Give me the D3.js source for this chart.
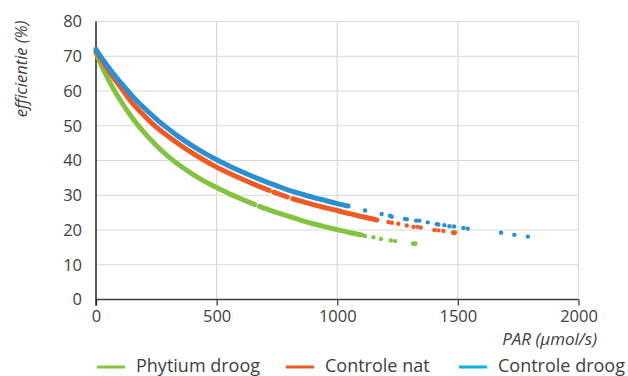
<!DOCTYPE html>
<html><head><meta charset="utf-8">
<script src="https://cdn.jsdelivr.net/npm/d3@7"></script>
<style>
body{margin:0;background:#fff;}
text{font-family:"Open Sans",sans-serif;}
</style></head>
<body><svg id="c" width="628" height="376"></svg>
<script>
// ---- data ----
const seriesNames = ["Phytium droog", "Controle nat", "Controle droog"];
const xTicks = [0, 500, 1000, 1500, 2000];
const yTicks = [0, 10, 20, 30, 40, 50, 60, 70, 80];

// dense runs of points (drawn as thick bands), split where the picture shows gaps
const phytiumDense = [
  [[0,71],[25,67],[50,63.5],[75,60.3],[100,57.4],[150,52.3],[200,48],[250,44.3],[300,41.1],[350,38.4],[400,36.1],[450,34],[500,32.2],[550,30.5],[600,29],[658,27.3]],
  [[678,26.8],[700,26.2],[750,25],[800,23.9],[850,22.8],[900,21.8],[950,20.9],[1000,20.1],[1050,19.3],[1101,18.6]]
];
const phytiumSparse = [[1115,18.3],[1150,17.9],[1181,17.4],[1222,17.0],[1240,16.8],[1314,16.1],[1320,16.0],[1324,16.1]];

const natDense = [
  [[0,71.3],[25,68.6],[50,66.1],[75,63.6],[100,61.3],[150,56.6],[200,52.9],[250,49.6],[300,46.9],[350,44.4],[400,42.1],[450,40],[500,38.1],[550,36.4],[600,34.8],[650,33.3],[700,31.9],[718,31.4]],
  [[737,30.9],[793,29.5]],
  [[815,29.0],[850,28.3],[900,27.3],[950,26.4],[1000,25.6],[1050,24.7],[1100,23.9],[1164,22.9]]
];
const natSparse = [[1212,22.3],[1226,22.1],[1253,21.8],[1288,21.3],[1316,20.9],[1332,20.9],[1346,20.7],[1403,20.0],[1419,19.9],[1440,19.7],[1480,19.3],[1484,19.1],[1488,19.3]];

const droogDense = [
  [[0,72],[25,69.4],[50,67],[75,64.7],[100,62.6],[150,58.6],[200,55.1],[250,51.9],[300,49.1],[350,46.5],[400,44.2],[450,42.1],[500,40.2],[550,38.5],[600,36.9],[650,35.4],[700,34],[750,32.7],[785,31.8]],
  [[792,31.6],[850,30.4],[900,29.4],[950,28.5],[1000,27.6],[1045,26.9]]
];
const droogSparse = [[1115,25.6],[1184,24.6],[1219,24.1],[1226,23.8],[1281,23.2],[1288,23.1],[1327,22.7],[1340,22.7],[1375,22.2],[1412,21.7],[1419,21.6],[1444,21.4],[1465,21.1],[1484,21.0],[1523,20.6],[1541,20.4],[1679,19.2],[1734,18.6],[1790,18.1]];

const dotColors = ["#84c341", "#ef5a24", "#2b8fd3"];
const legendColors = ["#84c341", "#ef5a24", "#0fb0ee"];

// ---- chart ----
const svg = d3.select("#c");
const x = d3.scaleLinear().domain([0, 2000]).range([96, 578.5]);
const y = d3.scaleLinear().domain([0, 80]).range([299.5, 21.5]);
const txt = "#404040";

// gridlines
svg.append("g").selectAll("line").data(yTicks.filter(d => d > 0)).join("line")
  .attr("x1", x(0)).attr("x2", x(2000)).attr("y1", d => y(d)).attr("y2", d => y(d))
  .attr("stroke", "#d9d9d9").attr("stroke-width", 1.2);
svg.append("g").selectAll("line").data(xTicks.filter(d => d > 0)).join("line")
  .attr("x1", d => x(d)).attr("x2", d => x(d)).attr("y1", y(80)).attr("y2", y(0))
  .attr("stroke", "#d9d9d9").attr("stroke-width", 1.2);

// x axis
const xAxis = svg.append("g").attr("transform", `translate(0,${y(0)})`)
  .call(d3.axisBottom(x).tickValues(xTicks).tickSize(6).tickPadding(5).tickFormat(d3.format("d")));
xAxis.select(".domain").attr("stroke", "#404040").attr("stroke-width", 1.5).attr("d", `M${x(0)},0H${x(2000)}`);
xAxis.selectAll(".tick line").attr("stroke", "#404040").attr("stroke-width", 1.3);
xAxis.selectAll("text").attr("fill", txt).style("font-size", "16.5px").style("font-family", "Open Sans");

// y axis
const yAxis = svg.append("g").attr("transform", `translate(${x(0)},0)`)
  .call(d3.axisLeft(y).tickValues(yTicks).tickSize(0).tickPadding(14));
yAxis.select(".domain").attr("stroke", "#222").attr("stroke-width", 1.5).attr("d", `M0,${y(80)}V${y(0) + 6}`);
yAxis.selectAll("text").attr("fill", txt).style("font-size", "16.5px").style("font-family", "Open Sans");

// series
const line = d3.line().x(d => x(d[0])).y(d => y(d[1])).curve(d3.curveMonotoneX);
const dense = [phytiumDense, natDense, droogDense];
const sparse = [phytiumSparse, natSparse, droogSparse];
dense.forEach((runs, i) => {
  svg.append("g").selectAll("path").data(runs).join("path")
    .attr("d", line).attr("fill", "none").attr("stroke", dotColors[i])
    .attr("stroke-width", 5).attr("stroke-linecap", "round").attr("stroke-linejoin", "round");
  svg.append("g").selectAll("circle").data(sparse[i]).join("circle")
    .attr("cx", d => x(d[0])).attr("cy", d => y(d[1])).attr("r", 2.2).attr("fill", dotColors[i]);
});

// axis titles
svg.append("text").attr("transform", "translate(27,69) rotate(-90)").attr("text-anchor", "middle")
  .attr("fill", txt).style("font-size", "16.5px").style("font-style", "italic").text("efficientie (%)");
svg.append("text").attr("x", 597).attr("y", 345).attr("text-anchor", "end")
  .attr("fill", txt).style("font-size", "17px").style("font-style", "italic").text("PAR (µmol/s)");

// legend
const legX = [97, 286, 459];
const leg = svg.append("g").selectAll("g").data(seriesNames).join("g")
  .attr("transform", (d, i) => `translate(${legX[i]},367)`);
leg.append("line").attr("x1", 0).attr("x2", 28).attr("y1", 0).attr("y2", 0)
  .attr("stroke", (d, i) => legendColors[i]).attr("stroke-width", 3);
leg.append("text").attr("x", 39).attr("y", 5).attr("fill", txt).style("font-size", "18px").text(d => d);
</script></body></html>
